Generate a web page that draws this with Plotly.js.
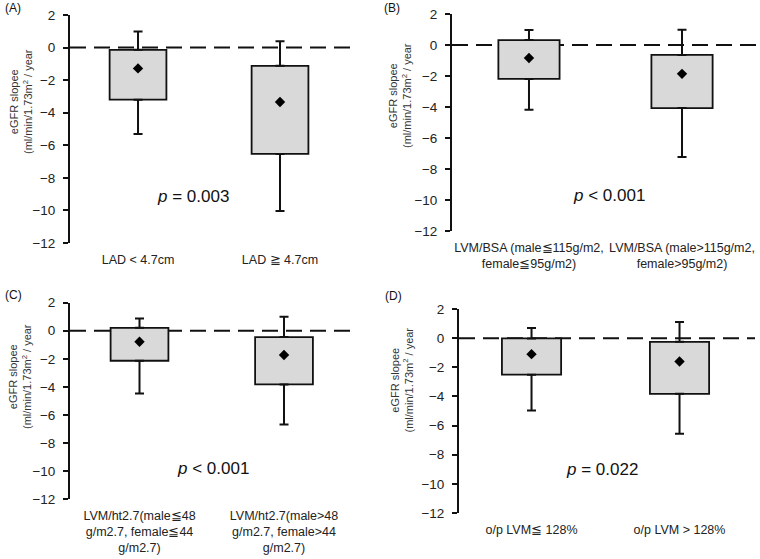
<!DOCTYPE html>
<html>
<head>
<meta charset="utf-8">
<script src="https://cdn.plot.ly/plotly-3.0.1.min.js"></script>
<style>html,body{margin:0;padding:0;background:#fff;}#chart{width:760px;height:559px;}</style>
</head>
<body>
<div id="chart"></div>
<script>
// ---- Data ----
const panelLabels = ['(A)', '(B)', '(C)', '(D)'];
const pValues = ['<i>p</i> = 0.003', '<i>p</i> &lt; 0.001', '<i>p</i> &lt; 0.001', '<i>p</i> = 0.022'];

const catsA = ['LAD &lt; 4.7cm', 'LAD ≧ 4.7cm'];
const catsB = ['LVM/BSA (male≦115g/m2,<br>female≦95g/m2)', 'LVM/BSA (male>115g/m2,<br>female>95g/m2)'];
const catsC = ['LVM/ht2.7(male≦48<br>g/m2.7, female≦44<br>g/m2.7)', 'LVM/ht2.7(male>48<br>g/m2.7, female>44<br>g/m2.7)'];
const catsD = ['o/p LVM≦ 128%', 'o/p LVM > 128%'];

const boxTopA = [-0.14, -1.12];
const boxBottomA = [-3.20, -6.53];
const meanA = [-1.28, -3.34];
const whiskerTopA = [0.98, 0.39];
const whiskerBottomA = [-5.31, -10.03];

const boxTopB = [0.32, -0.64];
const boxBottomB = [-2.19, -4.07];
const meanB = [-0.84, -1.86];
const whiskerTopB = [0.96, 0.98];
const whiskerBottomB = [-4.18, -7.22];

const boxTopC = [0.21, -0.45];
const boxBottomC = [-2.14, -3.83];
const meanC = [-0.78, -1.73];
const whiskerTopC = [0.88, 1.00];
const whiskerBottomC = [-4.47, -6.68];

const boxTopD = [-0.02, -0.25];
const boxBottomD = [-2.51, -3.82];
const meanD = [-1.10, -1.60];
const whiskerTopD = [0.69, 1.10];
const whiskerBottomD = [-4.96, -6.56];

const yTitle = 'eGFR slopee<br>(ml/min/1.73m<sup>2</sup> / year';

// ---- Build ----
const panels = [
  {cats: catsA, top: boxTopA, bot: boxBottomA, mean: meanA, wt: whiskerTopA, wb: whiskerBottomA,
   xd: [70, 352], yd: [15, 243], xr: [-0.479, 1.507], px: 0.39, py: -9.15, tx: 21, ty: 102, lab: [3, 8]},
  {cats: catsB, top: boxTopB, bot: boxBottomB, mean: meanB, wt: whiskerTopB, wb: whiskerBottomB,
   xd: [452, 757], yd: [14, 231], xr: [-0.503, 1.49], px: 0.52, py: -9.69, tx: 400, ty: 96, lab: [382, 8]},
  {cats: catsC, top: boxTopC, bot: boxBottomC, mean: meanC, wt: whiskerTopC, wb: whiskerBottomC,
   xd: [70, 357], yd: [302.7, 499], xr: [-0.481, 1.505], px: 0.507, py: -9.81, tx: 20, ty: 377, lab: [3, 295]},
  {cats: catsD, top: boxTopD, bot: boxBottomD, mean: meanD, wt: whiskerTopD, wb: whiskerBottomD,
   xd: [459, 755], yd: [309, 513], xr: [-0.49, 1.51], px: 0.476, py: -9.03, tx: 401.5, ty: 380, lab: [383, 296]}
];
const W = 760, H = 559;
const traces = [];
const layout = {
  width: W, height: H,
  margin: {l: 0, r: 0, t: 0, b: 0},
  paper_bgcolor: '#fff', plot_bgcolor: 'rgba(0,0,0,0)',
  showlegend: false,
  font: {family: 'Liberation Sans, Arial, sans-serif', color: '#222'},
  shapes: [], annotations: []
};

panels.forEach((p, i) => {
  const n = i === 0 ? '' : String(i + 1);
  const xa = 'x' + n, ya = 'y' + n;
  const xs = p.cats.map((_, k) => k);
  traces.push({
    type: 'bar', x: xs, base: p.bot, y: p.top.map((t, k) => t - p.bot[k]),
    xaxis: xa, yaxis: ya, width: 0.4,
    marker: {color: '#d9d9d9', line: {color: '#111', width: 1.8}},
    hoverinfo: 'skip'
  });
  traces.push({
    type: 'scatter', mode: 'markers', x: xs, y: p.top, xaxis: xa, yaxis: ya,
    marker: {size: 1, color: 'rgba(0,0,0,0)'},
    error_y: {type: 'data', symmetric: false, array: p.wt.map((w, k) => w - p.top[k]),
      arrayminus: p.top.map(() => 0), color: '#111', thickness: 2, width: 4.5},
    hoverinfo: 'skip'
  });
  traces.push({
    type: 'scatter', mode: 'markers', x: xs, y: p.bot, xaxis: xa, yaxis: ya,
    marker: {size: 1, color: 'rgba(0,0,0,0)'},
    error_y: {type: 'data', symmetric: false, array: p.bot.map(() => 0),
      arrayminus: p.bot.map((b, k) => b - p.wb[k]), color: '#111', thickness: 2, width: 4.5},
    hoverinfo: 'skip'
  });
  traces.push({
    type: 'scatter', mode: 'markers', x: xs, y: p.mean, xaxis: xa, yaxis: ya,
    marker: {symbol: 'diamond', size: 8, color: '#000'},
    hoverinfo: 'skip'
  });
  layout['xaxis' + n] = {
    domain: [p.xd[0] / W, p.xd[1] / W], range: p.xr, anchor: ya,
    tickvals: xs, ticktext: p.cats, showline: false, zeroline: false, showgrid: false,
    ticks: '', tickfont: {size: 12.5, color: '#222'}, ticklabelstandoff: 7, fixedrange: true
  };
  layout['yaxis' + n] = {
    domain: [1 - p.yd[1] / H, 1 - p.yd[0] / H], range: [-12, 2], anchor: xa,
    tickvals: [2, 0, -2, -4, -6, -8, -10, -12], showline: true, linecolor: '#111', linewidth: 2,
    ticks: 'outside', ticklen: 5, tickwidth: 2, tickcolor: '#111', zeroline: false, showgrid: false,
    tickfont: {size: 13.5, color: '#222'}, ticklabelstandoff: 5, fixedrange: true
  };
  layout.shapes.push({
    type: 'line', xref: xa + ' domain', yref: ya, x0: 0, x1: 1, y0: 0, y1: 0,
    line: {color: '#111', width: 2, dash: '16px,8px'}, layer: 'below'
  });
  layout.annotations.push({
    xref: xa, yref: ya, x: p.px, y: p.py, text: pValues[i], showarrow: false,
    font: {size: 17, color: '#111'}, xanchor: 'center', yanchor: 'middle'
  });
  layout.annotations.push({
    xref: 'paper', yref: 'paper', x: p.tx / W, y: 1 - p.ty / H, text: yTitle, textangle: -90,
    showarrow: false, xanchor: 'center', yanchor: 'middle', font: {size: 11, color: '#333'}
  });
  layout.annotations.push({
    xref: 'paper', yref: 'paper', x: p.lab[0] / W, y: 1 - p.lab[1] / H,
    text: panelLabels[i], showarrow: false, xanchor: 'left', yanchor: 'middle',
    font: {size: 12, color: '#111'}
  });
});

Plotly.newPlot('chart', traces, layout, {displayModeBar: false, staticPlot: true});
</script>
</body>
</html>
